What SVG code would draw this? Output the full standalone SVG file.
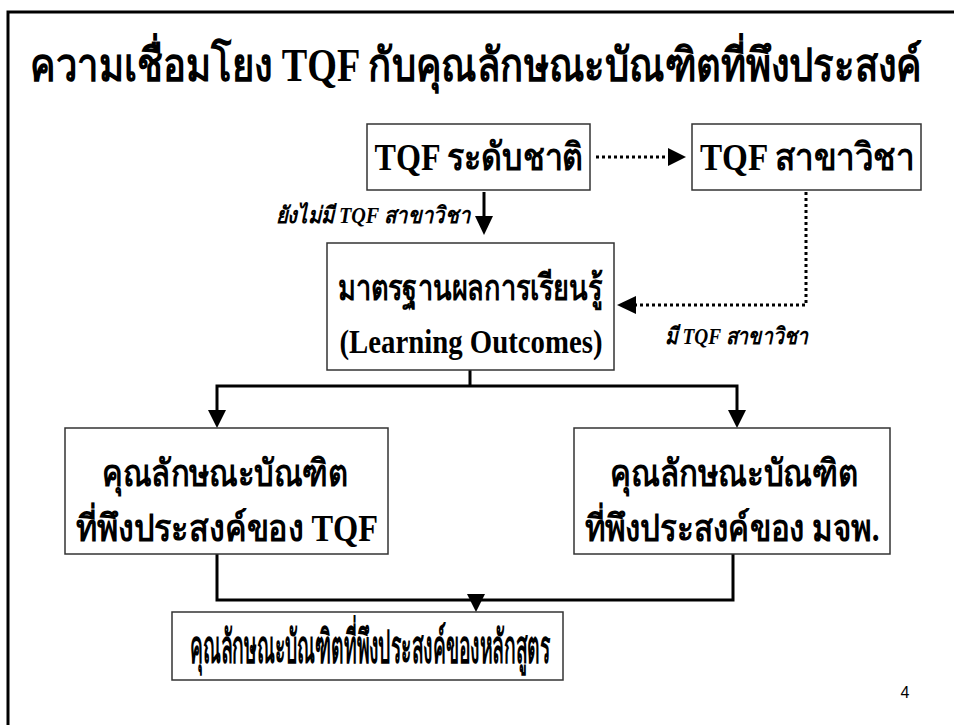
<svg xmlns="http://www.w3.org/2000/svg" width="954" height="725" viewBox="0 0 954 725">
<defs>
<style>
.box{fill:#fff;stroke:#333;stroke-width:1.5}
.t{font-family:"Liberation Serif","Times New Roman",serif;font-weight:bold;fill:#000;text-anchor:middle}
.lbl{font-family:"Liberation Serif","Times New Roman",serif;font-weight:bold;font-style:italic;fill:#000;font-size:23px}
.solid{fill:none;stroke:#000;stroke-width:3}
.dot{fill:none;stroke:#000;stroke-width:3;stroke-dasharray:3 3}
.head{fill:#000}
</style>
</defs>
<rect x="0" y="0" width="954" height="725" fill="#fff"/>
<path d="M8,725 V12 H954" fill="none" stroke="#000" stroke-width="3"/>
<text class="t" x="476" y="81" font-size="46" textLength="892" lengthAdjust="spacingAndGlyphs">ความเชื่อมโยง TQF กับคุณลักษณะบัณฑิตที่พึงประสงค์</text>

<g id="connectors">
<path class="dot" d="M596,157 H668"/>
<path class="head" d="M668,148 L686,157 L668,166 Z"/>
<path class="solid" d="M484,192 V216"/>
<path class="head" d="M475,216 L484,235 L493,216 Z"/>
<path class="dot" d="M806,192 V305 H636"/>
<path class="head" d="M636,296 L617,305 L636,314 Z"/>
<path class="solid" d="M470,370 V386 M215.5,386 H738.5 M217,386 V410 M737,386 V410"/>
<path class="head" d="M208,410 L217,428 L226,410 Z M728,410 L737,428 L746,410 Z"/>
<path class="solid" d="M217,554 V600 H733 V554 M476,600 V596"/>
<path class="head" d="M467,594 L476,612 L485,594 Z"/>
</g>

<g id="tqf-national">
<rect class="box" x="367" y="124" width="223" height="66"/>
<text class="t" x="479" y="170" font-size="38" textLength="209" lengthAdjust="spacingAndGlyphs">TQF ระดับชาติ</text>
</g>
<g id="tqf-field">
<rect class="box" x="692" y="124" width="229" height="66"/>
<text class="t" x="807" y="170" font-size="38" textLength="214" lengthAdjust="spacingAndGlyphs">TQF สาขาวิชา</text>
</g>
<text class="lbl" x="276" y="223" textLength="194" lengthAdjust="spacingAndGlyphs">ยังไม่มี TQF สาขาวิชา</text>
<text class="lbl" x="665" y="344" textLength="143" lengthAdjust="spacingAndGlyphs">มี TQF สาขาวิชา</text>
<g id="learning-outcomes">
<rect class="box" x="327" y="243" width="287" height="127"/>
<text class="t" x="470" y="300" font-size="36" textLength="265" lengthAdjust="spacingAndGlyphs">มาตรฐานผลการเรียนรู้</text>
<text class="t" x="471" y="353" font-size="34" textLength="263" lengthAdjust="spacingAndGlyphs">(Learning Outcomes)</text>
</g>
<g id="tqf-attributes">
<rect class="box" x="65" y="428" width="323" height="126"/>
<text class="t" x="225" y="486" font-size="37" textLength="246" lengthAdjust="spacingAndGlyphs">คุณลักษณะบัณฑิต</text>
<text class="t" x="227" y="541" font-size="37" textLength="302" lengthAdjust="spacingAndGlyphs">ที่พึงประสงค์ของ TQF</text>
</g>
<g id="univ-attributes">
<rect class="box" x="574" y="428" width="316" height="126"/>
<text class="t" x="734" y="486" font-size="37" textLength="248" lengthAdjust="spacingAndGlyphs">คุณลักษณะบัณฑิต</text>
<text class="t" x="732" y="541" font-size="37" textLength="295" lengthAdjust="spacingAndGlyphs">ที่พึงประสงค์ของ มจพ.</text>
</g>
<g id="program-attributes">
<rect class="box" x="172" y="612" width="391" height="68"/>
<text class="t" x="370" y="663" font-size="46" textLength="361" lengthAdjust="spacingAndGlyphs">คุณลักษณะบัณฑิตที่พึงประสงค์ของหลักสูตร</text>
</g>
<text x="905" y="698" font-family="Liberation Sans, Arial, sans-serif" font-size="16" fill="#000" text-anchor="middle">4</text>
</svg>
